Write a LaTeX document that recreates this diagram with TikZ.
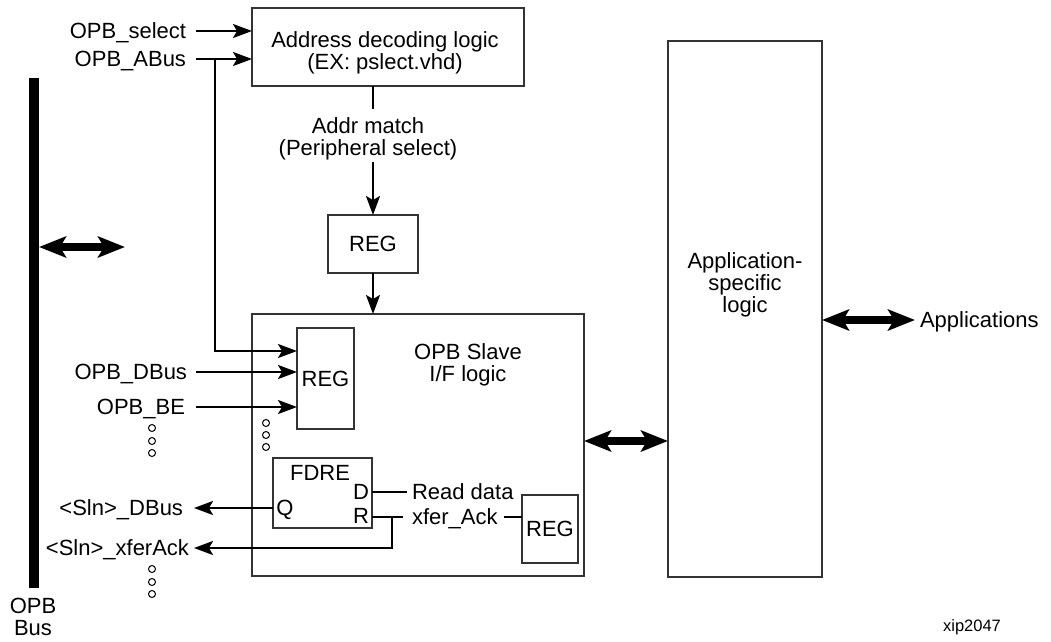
\documentclass[tikz,border=0pt]{standalone}
\usepackage{fontspec}
\setmainfont{Liberation Sans}
\usetikzlibrary{arrows.meta}
\begin{document}
\begin{tikzpicture}[x=1pt,y=-1pt,
  every node/.style={inner sep=0pt, outer sep=0pt},
  txt/.style={font=\fontsize{22}{22}\selectfont, align=center},
  lab/.style={font=\fontsize{22}{22}\selectfont, text height=15.75pt, text depth=0pt},
  box/.style={draw=black!80, line width=2pt, inner sep=0pt},
  wire/.style={line width=2pt},
  sig/.style={wire, -{Stealth[length=19pt,width=14pt,inset=4pt]}},
  bigarr/.style={line width=8.5pt, {Stealth[length=27pt,width=21pt,inset=6pt]}-{Stealth[length=27pt,width=21pt,inset=6pt]}},
  dotc/.style={circle, draw, line width=1pt, minimum size=7pt}]
\useasboundingbox (0,0) rectangle (1051,641);

% OPB bus
\coordinate (bustop) at (34,78);
\coordinate (busbot) at (34,588);
\draw[line width=10pt] (bustop) -- (busbot);
\node[txt] (buslab) at (33,617) {OPB\\Bus};
\coordinate (busR) at (39,247);
\coordinate (busE) at (125,247);
\draw[bigarr] (busR) -- (busE);

% address decoding
\node[box, minimum width=272pt, minimum height=78pt] (addr) at (388,47) {};
\node[txt] (addrtxt) at (385,53) {Address decoding logic\\(EX: pslect.vhd)};
\node[txt] (amatch) at (368,139) {Addr match\\(Peripheral select)};

% REG 1
\node[box, txt, minimum width=90pt, minimum height=58pt] (reg1) at (373,244) {REG};
\draw[wire] (addr.south -| reg1.north) -- ([yshift=9pt]amatch.north -| reg1.north);
\draw[sig] ([yshift=-2pt]amatch.south -| reg1.north) -- (reg1.north);

% slave
\node[box, minimum width=332pt, minimum height=262pt] (slave) at (418,445) {};
\node[txt] (slavetxt) at (468,365) {OPB Slave\\I/F logic};
\draw[sig] (reg1.south) -- (reg1.south |- slave.north);

% inner REG
\node[box, txt, minimum width=57pt, minimum height=101pt] (reg2) at (325.5,378.5) {REG};

% inputs
\node[lab, anchor=east] (sel) at (186,31) {OPB\_select};
\node[lab, anchor=east] (abus) at (186,59) {OPB\_ABus};
\draw[sig] ([xshift=10pt]sel.east) -- (sel.east -| addr.west);
\draw[sig] ([xshift=10pt]abus.east) -- (abus.east -| addr.west);
\coordinate (abr) at (215,59);
\draw[sig] (abr) |- ([yshift=27.5pt]reg2.west);
\node[lab, anchor=east] (dbus) at (187,372) {OPB\_DBus};
\draw[sig] ([xshift=9pt]dbus.east) -- (dbus.east -| reg2.west);
\node[lab, anchor=east] (be) at (185,407) {OPB\_BE};
\draw[sig] ([xshift=11pt]be.east) -- (be.east -| reg2.west);

% dots
\foreach \y [count=\i] in {428,441,453} \node[dotc] (da\i) at (152,\y) {};
\foreach \y [count=\i] in {423,435,447} \node[dotc] (db\i) at (266,\y) {};
\foreach \y [count=\i] in {569,582,594} \node[dotc] (dc\i) at (152,\y) {};

% FDRE
\node[box, minimum width=99pt, minimum height=70pt] (fdre) at (322.5,493) {};
\node[lab] (fdret) at (320,473) {FDRE};
\node[lab] (pd) at (361,492) {D};
\node[lab] (pq) at (285,508) {Q};
\node[lab] (pr) at (361,516) {R};

\node[lab, anchor=west] (rdata) at (412,492) {Read data};
\draw[wire] (fdre.east |- rdata.west) -- ([xshift=-5pt]rdata.west);
\node[lab, anchor=west] (xack) at (412,517) {xfer\_Ack};
\node[box, txt, minimum width=56pt, minimum height=68pt] (reg3) at (550,529) {REG};
\draw[wire] (fdre.east |- xack.west) -- ([xshift=-9pt]xack.west);
\draw[wire] ([xshift=6pt]xack.east) -- (xack.east -| reg3.west);

% outputs
\node[lab, anchor=east] (sdbus) at (183,508) {<Sln>\_DBus};
\node[lab, anchor=east] (sack) at (189,548) {<Sln>\_xferAck};
\draw[sig] (fdre.west |- pq.west) -- ([xshift=11pt]sdbus.east);
\coordinate (rbr) at (392,517);
\draw[sig] (rbr) |- ([xshift=5pt]sack.east);

% application
\node[box, minimum width=154pt, minimum height=536pt] (app) at (745,309) {};
\node[txt] (apptxt) at (745,285) {Application-\\specific\\logic};
\draw[bigarr] ([yshift=4pt]slave.east) -- ([yshift=4pt]slave.east -| app.west);
\node[lab, anchor=west] (appl) at (920,320) {Applications};
\draw[bigarr] (app.east |- appl.west) -- ([xshift=-5pt]appl.west);

\node[font=\fontsize{16.5}{18}\selectfont] (xip) at (972,627) {xip2047};
\end{tikzpicture}
\end{document}
